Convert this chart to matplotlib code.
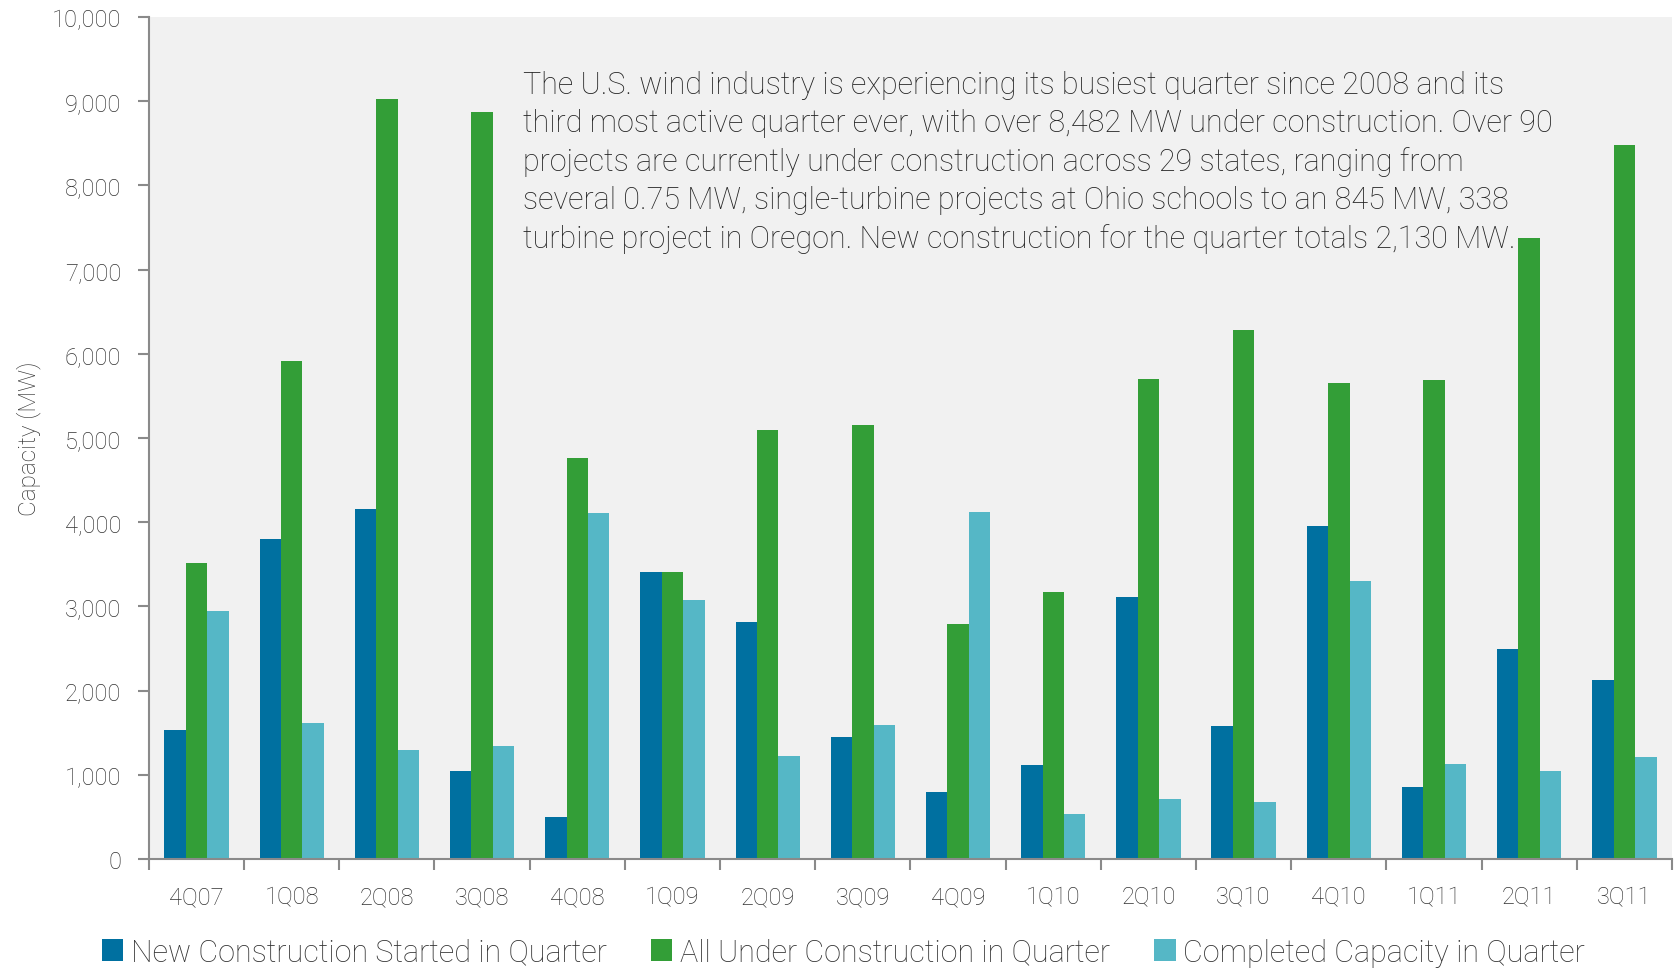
import numpy as np
import matplotlib.pyplot as plt
from matplotlib.ticker import FuncFormatter, FixedLocator

plt.rcParams['font.family'] = ['Roboto', 'Liberation Sans', 'DejaVu Sans']
plt.rcParams['font.weight'] = 'light'
plt.rcParams['axes.labelweight'] = 'light'

quarters = ["4Q07", "1Q08", "2Q08", "3Q08", "4Q08", "1Q09", "2Q09", "3Q09",
            "4Q09", "1Q10", "2Q10", "3Q10", "4Q10", "1Q11", "2Q11", "3Q11"]
new_started = [1530, 3800, 4160, 1050, 500, 3410, 2810, 1450,
               800, 1120, 3110, 1580, 3950, 850, 2500, 2130]
all_under = [3520, 5910, 9030, 8870, 4760, 3410, 5090, 5160,
             2790, 3170, 5700, 6280, 5650, 5690, 7370, 8482]
completed = [2940, 1620, 1300, 1340, 4110, 3080, 1220, 1590,
             4120, 540, 710, 680, 3300, 1130, 1040, 1210]
series_names = ["New Construction Started in Quarter",
                "All Under Construction in Quarter",
                "Completed Capacity in Quarter"]
colors = ["#0070A0", "#339E37", "#55B7C6"]

note = ("The U.S. wind industry is experiencing its busiest quarter since 2008 and its\n"
        "third most active quarter ever, with over 8,482 MW under construction. Over 90\n"
        "projects are currently under construction across 29 states, ranging from\n"
        "several 0.75 MW, single-turbine projects at Ohio schools to an 845 MW, 338\n"
        "turbine project in Oregon. New construction for the quarter totals 2,130 MW.")

txt = "#333333"
fig = plt.figure(figsize=(16.77, 9.70), dpi=100)
ax = fig.add_axes([0.0888, 0.1134, 0.9082, 0.868])
ax.set_facecolor("#F1F1F1")

x = np.arange(len(quarters))
w = 0.225
for i, (vals, name, c) in enumerate(zip([new_started, all_under, completed], series_names, colors)):
    ax.bar(x + (i - 1) * w, vals, w, color=c, label=name, linewidth=0)

ax.set_xlim(-0.5, len(quarters) - 0.5)
ax.set_ylim(0, 10000)
ax.set_yticks(np.arange(0, 10001, 1000))
ax.yaxis.set_major_formatter(FuncFormatter(lambda v, p: f"{int(v):,}"))
ax.set_xticks(x)
ax.set_xticklabels(quarters)
ax.xaxis.set_minor_locator(FixedLocator(np.arange(-0.5, len(quarters), 1.0)))

for s in ["top", "right"]:
    ax.spines[s].set_visible(False)
for s in ["left", "bottom"]:
    ax.spines[s].set_color("#8a8a8a")
    ax.spines[s].set_linewidth(1.5)

ax.tick_params(axis="y", length=8, width=1.5, color="#8a8a8a", pad=12, labelsize=17, labelcolor=txt)
ax.tick_params(axis="x", which="major", length=0, pad=19, labelsize=17, labelcolor=txt)
ax.tick_params(axis="x", which="minor", length=8, width=1.5, color="#8a8a8a")

ax.set_ylabel("Capacity (MW)", fontsize=17.5, color=txt, labelpad=8, fontweight="light")

ax.text(0.2456, 0.937, note, transform=ax.transAxes, fontsize=22, color="#222222",
        va="top", ha="left", linespacing=1.38)

fig.legend(loc="center", bbox_to_anchor=(0.503, 0.0175), ncol=3, frameon=False,
           fontsize=22, handlelength=0.7, handleheight=0.7, handletextpad=0.25,
           columnspacing=1.45, labelcolor=txt)

fig.savefig("out.png", dpi=100)
